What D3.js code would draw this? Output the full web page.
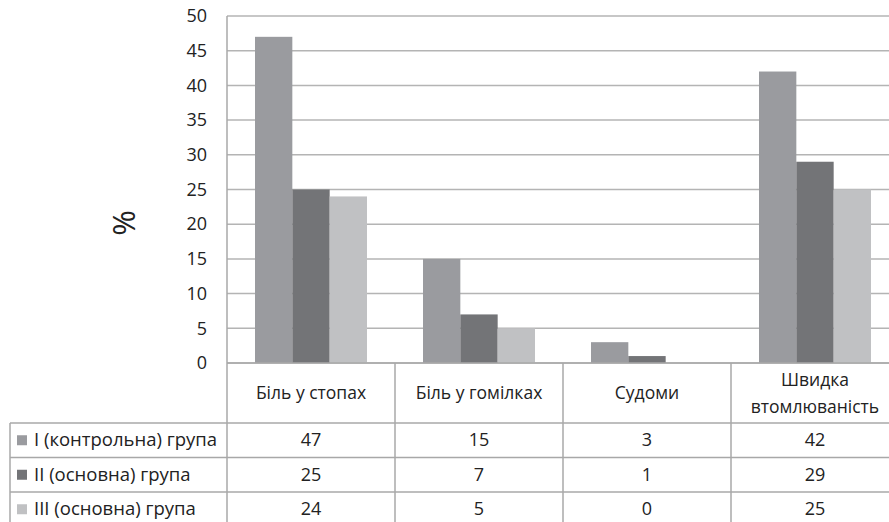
<!DOCTYPE html>
<html lang="uk">
  <head>
    <meta charset="utf-8" />
    <title>grouped bars with data table</title>
    <script type="text/javascript" src="https://d3js.org/d3.v7.min.js"></script>
    <style>
      body { margin: 0; background: #fff; }
      text { font-family: "Open Sans", "Liberation Sans", sans-serif; fill: #222; }
    </style>
  </head>
  <body>
    <div id="chart"></div>
    <script type="text/javascript">
      /********************************
       * data
       ********************************/
      const categories = [["Біль у стопах"], ["Біль у гомілках"], ["Судоми"], ["Швидка", "втомлюваність"]];
      const seriesNames = ["I (контрольна) група", "II (основна) група", "III (основна) група"];
      const group1 = [47, 15, 3, 42];
      const group2 = [25, 7, 1, 29];
      const group3 = [24, 5, 0, 25];
      const yTicks = [0, 5, 10, 15, 20, 25, 30, 35, 40, 45, 50];
      const colors = ["#9a9b9f", "#737477", "#c0c1c3"];

      const series = [group1, group2, group3];

      /********************************
       * svg
       ********************************/
      const width = 889;
      const height = 522;
      const plotLeft = 227;
      const plotRight = 899;
      const plotTop = 16;
      const plotBottom = 363;
      const rowH = 34.5;
      const headerBottom = 423;
      const tableLeft = 10;

      const svg = d3
        .select("#chart")
        .append("svg")
        .attr("width", width)
        .attr("height", height);

      // scales
      const x = d3
        .scaleBand()
        .domain(d3.range(categories.length))
        .range([plotLeft, plotRight]);
      const xInner = d3
        .scaleBand()
        .domain(d3.range(series.length))
        .range([0, x.bandwidth()])
        .paddingOuter(0.75);
      const y = d3.scaleLinear().domain([0, 50]).range([plotBottom, plotTop]);

      // gridlines
      svg
        .append("g")
        .selectAll("line")
        .data(yTicks)
        .enter()
        .append("line")
        .attr("x1", plotLeft)
        .attr("x2", plotRight)
        .attr("y1", (d) => y(d))
        .attr("y2", (d) => y(d))
        .style("stroke", "#b4b4b4")
        .style("stroke-width", 1.5);

      // y axis labels
      const yAxis = d3.axisLeft(y).tickValues(yTicks).tickSize(0).tickPadding(20);
      const ya = svg.append("g").attr("transform", `translate(${plotLeft},0)`).call(yAxis);
      ya.select(".domain").remove();
      ya.selectAll("text")
        .style("font-size", "18px")
        .style("font-family", "'Open Sans', sans-serif")
        .attr("fill", "#222");

      // "%" title
      svg
        .append("text")
        .attr("transform", "translate(135,223) rotate(-90)")
        .attr("text-anchor", "middle")
        .style("font-size", "31px")
        .text("%");

      // bars
      series.forEach((vals, si) => {
        svg
          .append("g")
          .selectAll("rect")
          .data(vals)
          .enter()
          .append("rect")
          .attr("x", (d, i) => x(i) + xInner(si))
          .attr("y", (d) => y(d))
          .attr("width", xInner.bandwidth())
          .attr("height", (d) => plotBottom - y(d))
          .style("fill", colors[si]);
      });

      /********************************
       * table
       ********************************/
      const lineColor = "#a8a8a8";
      const tableBottom = headerBottom + rowH * 3;
      const grid = svg.append("g").style("stroke", lineColor).style("stroke-width", 1.5);

      // axis line at left of plot, running down through the table
      grid.append("line").attr("x1", plotLeft).attr("x2", plotLeft).attr("y1", plotTop).attr("y2", tableBottom);
      // bottom of plot
      grid.append("line").attr("x1", plotLeft).attr("x2", plotRight).attr("y1", plotBottom).attr("y2", plotBottom);
      // category separators
      d3.range(1, categories.length).forEach((i) => {
        grid.append("line").attr("x1", x(i)).attr("x2", x(i)).attr("y1", plotBottom).attr("y2", tableBottom);
      });
      // row lines
      d3.range(4).forEach((r) => {
        const yy = headerBottom + r * rowH;
        grid.append("line").attr("x1", tableLeft).attr("x2", plotRight).attr("y1", yy).attr("y2", yy);
      });
      grid.append("line").attr("x1", tableLeft).attr("x2", tableLeft).attr("y1", headerBottom).attr("y2", tableBottom);

      // category labels
      categories.forEach((lines, i) => {
        const cx = x(i) + x.bandwidth() / 2;
        const midY = (plotBottom + headerBottom) / 2;
        const t = svg
          .append("text")
          .attr("text-anchor", "middle")
          .style("font-size", "17.5px");
        lines.forEach((ln, k) => {
          t.append("tspan")
            .attr("x", cx)
            .attr("y", midY + 6 + (k - (lines.length - 1) / 2) * 27)
            .text(ln);
        });
      });

      // rows
      series.forEach((vals, si) => {
        const cy = headerBottom + si * rowH + rowH / 2;
        svg
          .append("rect")
          .attr("x", 17)
          .attr("y", cy - 5)
          .attr("width", 10)
          .attr("height", 10)
          .style("fill", colors[si]);
        svg
          .append("text")
          .attr("x", 34)
          .attr("y", cy + 6)
          .style("font-size", "18.5px")
          .text(seriesNames[si]);
        vals.forEach((v, i) => {
          svg
            .append("text")
            .attr("x", x(i) + x.bandwidth() / 2)
            .attr("y", cy + 6)
            .attr("text-anchor", "middle")
            .style("font-size", "18px")
            .text(v);
        });
      });
    </script>
  </body>
</html>
